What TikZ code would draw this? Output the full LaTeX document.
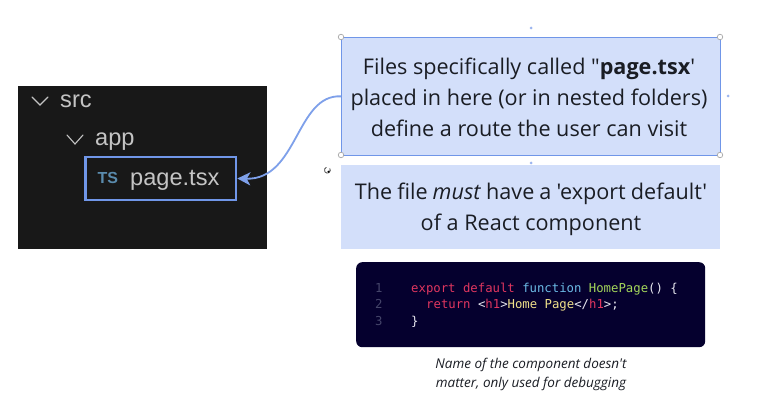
\documentclass[tikz,border=0pt]{standalone}
\usepackage{fontspec}
\usetikzlibrary{arrows.meta}
\newfontfamily\uifont{Open Sans}
\newfontfamily\treefont{Liberation Sans}
\newfontfamily\codefont{DejaVu Sans Mono}
\definecolor{panelbg}{HTML}{181818}
\definecolor{treetext}{HTML}{C4C4C4}
\definecolor{accent}{HTML}{7096E8}
\definecolor{boxfill}{HTML}{D3DFFA}
\definecolor{inktext}{HTML}{1A1D24}
\definecolor{codebg}{HTML}{05002E}
\definecolor{tsblue}{HTML}{5A8BAD}
\definecolor{cnum}{HTML}{45456A}
\definecolor{cpink}{HTML}{E0365F}
\definecolor{cblue}{HTML}{6CBBE6}
\definecolor{cgreen}{HTML}{A4D65A}
\definecolor{cyel}{HTML}{EFE08A}
\definecolor{cwhite}{HTML}{E8E8F0}
\tikzset{
  x=1pt,y=-1pt,
  treelabel/.style={font=\treefont\fontsize{23.6}{26}\selectfont,text=treetext,inner sep=0pt,anchor=base west},
  chevron/.style={draw=treetext,line width=1.1pt,line cap=round,line join=miter},
  note/.style={font=\uifont\fontsize{21.6}{31}\selectfont,text=inktext,align=center,inner sep=0pt},
  codeline/.style={font=\codefont\fontsize{12.3}{16}\selectfont,inner sep=0pt,anchor=base west},
  handle/.style={circle,draw=gray!70,fill=white,line width=.7pt,minimum size=5.5pt,inner sep=0pt},
  dot/.style={circle,fill=accent!70,minimum size=3pt,inner sep=0pt},
}
\begin{document}
\begin{tikzpicture}
\useasboundingbox (0,0) rectangle (763,409);
\fill[white] (0,0) rectangle (763,409);
% explorer panel
\node[fill=panelbg,minimum width=249pt,minimum height=163pt,inner sep=0pt,anchor=north west] (panel) at (18,86) {};
\draw[chevron] (32,97) -- (40,105) -- (48,97);
\draw[chevron] (67,135) -- (75,144) -- (83,135);
\node[treelabel] (src) at (60,107.5) {src};
\node[treelabel] (app) at (95,146) {app};
\node[draw=accent,line width=2.5pt,minimum width=150.5pt,minimum height=42.5pt,inner sep=0pt,anchor=north west] (file) at (84.3,156) {};
\node[font=\treefont\bfseries\fontsize{16}{18}\selectfont,text=tsblue,inner sep=0pt,anchor=base west] (ts) at (97.5,183) {TS};
\node[treelabel] (page) at (130,185) {page.tsx};
% callout
\node[fill=boxfill,draw=accent,line width=.7pt,minimum width=379pt,minimum height=118pt,inner sep=0pt,anchor=north west] (callout) at (341,37) {};
\node[note] (calloutText) at (529,97) {Files specifically called "\textbf{page.tsx}'\\placed in here (or in nested folders)\\define a route the user can visit};
\draw[accent!90!white,line width=1.8pt,-{Stealth[length=13pt,width=13pt,inset=3.5pt]}] (callout.west) .. controls (296,94) and (298,180) .. (file.east);
% handles
\node[handle] (h1) at (341,37) {};
\node[handle] (h2) at (720,37) {};
\node[handle] (h3) at (341,155) {};
\node[handle] (h4) at (720,155) {};
\node[dot] (d1) at (531,28) {};
\node[dot] (d2) at (531,163) {};
\node[dot] (d3) at (728,96) {};
% rotate cursor
\draw[black!80,line width=.7pt] (329.8,168.4) arc (-35:250:3);
\fill[black] (327.4,171.2) -- (329.6,170.4) -- (328.8,173) -- cycle;
% must box
\node[fill=boxfill,minimum width=379pt,minimum height=84pt,inner sep=0pt,anchor=north west] (must) at (341,165) {};
\node[note] (mustText) at (531,209.5) {{\spaceskip=5.1pt The file \textit{must} have a 'export default'}\\of a React component};
% code
\node[fill=codebg,rounded corners=6pt,minimum width=349pt,minimum height=85pt,inner sep=0pt,anchor=north west] (code) at (356,262) {};
\node[codeline,text=cnum] (n1) at (375,292) {1};
\node[codeline,text=cnum] (n2) at (375,308) {2};
\node[codeline,text=cnum] (n3) at (375,325) {3};
\node[codeline] (c1) at (411,292) {\textcolor{cpink}{export default} \textcolor{cblue}{function} \textcolor{cgreen}{HomePage}\textcolor{cwhite}{() \{}};
\node[codeline] (c2) at (426,308) {\textcolor{cpink}{return} \textcolor{cwhite}{<}\textcolor{cpink}{h1}\textcolor{cwhite}{>}\textcolor{cyel}{Home Page}\textcolor{cwhite}{</}\textcolor{cpink}{h1}\textcolor{cwhite}{>;}};
\node[codeline,text=cwhite] (c3) at (411,325) {\}};
% caption
\node[font=\uifont\itshape\fontsize{13.5}{19}\selectfont,text=inktext,align=center,inner sep=0pt] (caption) at (531,374.5) {Name of the component doesn't\\matter, only used for debugging};
\end{tikzpicture}
\end{document}
